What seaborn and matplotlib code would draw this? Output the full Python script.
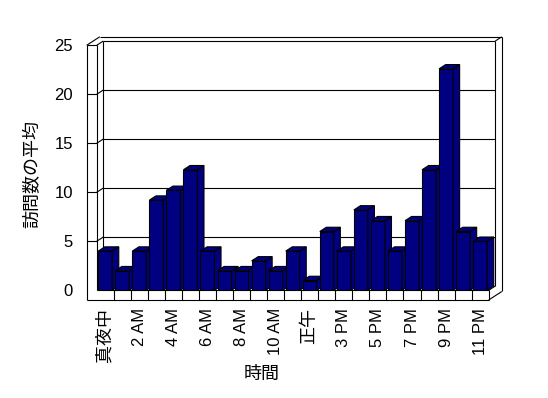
import matplotlib
matplotlib.use("Agg")
import matplotlib.pyplot as plt
import seaborn as sns
import pandas as pd
from matplotlib.patches import Polygon

# ---- data ----
hours = ["真夜中", "1 AM", "2 AM", "3 AM", "4 AM", "5 AM", "6 AM", "7 AM", "8 AM",
         "9 AM", "10 AM", "11 AM", "正午", "2 PM", "3 PM", "4 PM", "5 PM", "6 PM",
         "7 PM", "8 PM", "9 PM", "10 PM", "11 PM"]
visits = [4, 2, 4, 9.2, 10.2, 12.3, 4, 2, 2, 3, 2, 4, 1, 6, 4, 8.2, 7.1, 4, 7.1,
          12.3, 22.6, 6, 5]
y_ticks = [0, 5, 10, 15, 20, 25]
x_label = "時間"
y_label = "訪問数の平均"

sns.set_style("white")
plt.rcParams['font.family'] = ['Liberation Sans', 'Noto Sans CJK JP']
plt.rcParams.update({"text.color": "black", "axes.labelcolor": "black",
                     "xtick.color": "black", "ytick.color": "black"})

W, H = 548, 398
fig = plt.figure(figsize=(W / 100, H / 100), dpi=100)
fig.patch.set_facecolor("white")
ax = fig.add_axes([96.7 / W, (H - 290.3) / H, 392 / W, 245 / H])
ax.patch.set_alpha(0)

navy = "#000080"
df = pd.DataFrame({"hour": hours, "visits": visits})
sns.barplot(data=df, x="hour", y="visits", order=hours, color=navy, saturation=1,
            width=0.82, edgecolor="black", linewidth=0.8, ax=ax)
n = len(hours)
ax.set_xlim(-0.5, n - 0.5)
ax.set_ylim(0, 25)

# 3D depth faces of bars
DX, DY = 0.385, 0.435
for i, p in enumerate(ax.patches):
    x0 = p.get_x(); x1 = x0 + p.get_width(); h = p.get_height()
    z = 3 + 0.01 * i
    p.set_zorder(z)
    top = Polygon([(x0, h), (x1, h), (x1 + DX, h + DY), (x0 + DX, h + DY)], closed=True,
                  fc=navy, ec="black", lw=0.8, zorder=z, clip_on=False)
    side = Polygon([(x1, 0), (x1, h), (x1 + DX, h + DY), (x1 + DX, DY)], closed=True,
                   fc=navy, ec="black", lw=0.8, zorder=z, clip_on=False)
    ax.add_patch(side)
    ax.add_patch(top)

# walls / floor frame
XL, XR, SLAB, FLOOR, YT = -0.5, n - 0.5, 0.59, 0.99, 25
lk = dict(color="black", lw=0.8, clip_on=False, solid_capstyle="butt")

def seg(a, b, z=1):
    ax.plot([a[0], b[0]], [a[1], b[1]], zorder=z, **lk)

# back wall inner face
seg((XL + DX, YT + DY), (XR + DX, YT + DY))
seg((XR + DX, YT + DY), (XR + DX, DY))
seg((XL + DX, YT + DY), (XL + DX, DY))
# outer edges
seg((XL - SLAB + 2 * DX, YT + 2 * DY), (XR + 2 * DX, YT + 2 * DY))
seg((XR + 2 * DX, YT + 2 * DY), (XR + 2 * DX, -FLOOR + 2 * DY))
seg((XR + DX, YT + DY), (XR + 2 * DX, YT + 2 * DY))
seg((XL - SLAB, YT), (XL - SLAB + 2 * DX, YT + 2 * DY))
seg((XL, YT), (XL + DX, YT + DY))
# left slab
seg((XL - SLAB, YT), (XL - SLAB, -FLOOR), 2)
seg((XL, YT), (XL, 0), 2)
seg((XL - SLAB, YT), (XL, YT), 2)
# floor
seg((XL - SLAB, -FLOOR), (XR, -FLOOR), 2)
seg((XR, 0), (XR, -FLOOR), 2)
seg((XL, 0), (XR, 0), 2)
seg((XR, -FLOOR), (XR + 2 * DX, -FLOOR + 2 * DY), 2)
seg((XR, 0), (XR + DX, DY), 2)
for k in range(n - 1):
    seg((k + 0.5, 0), (k + 0.5, -FLOOR), 2)
# gridlines
for v in y_ticks[1:-1]:
    seg((XL - SLAB, v), (XL, v), 2)
    seg((XL, v), (XL + DX, v + DY))
    seg((XL + DX, v + DY), (XR + DX, v + DY))

for s in ax.spines.values():
    s.set_visible(False)
ax.grid(False)

ax.set_yticks(y_ticks)
ax.set_yticklabels([str(t) for t in y_ticks])
ax.tick_params(axis="y", length=0, pad=17, labelsize=12, labelcolor="black")
xt = list(range(0, n, 2))
ax.set_xticks(xt)
ax.set_xticklabels([hours[i] for i in xt], rotation=90)
ax.tick_params(axis="x", length=0, pad=12.5, labelsize=12, labelcolor="black")
for t in ax.get_xticklabels():
    if not any(c.isascii() for c in t.get_text()):
        t.set_fontsize(13)

ax.set_ylabel(y_label, fontsize=13, color="black")
ax.yaxis.set_label_coords(-0.142, 0.475)
ax.set_xlabel(x_label, fontsize=13, color="black")
ax.xaxis.set_label_coords(0.4217, -0.31)

fig.savefig("out.png", dpi=100, facecolor="white")
